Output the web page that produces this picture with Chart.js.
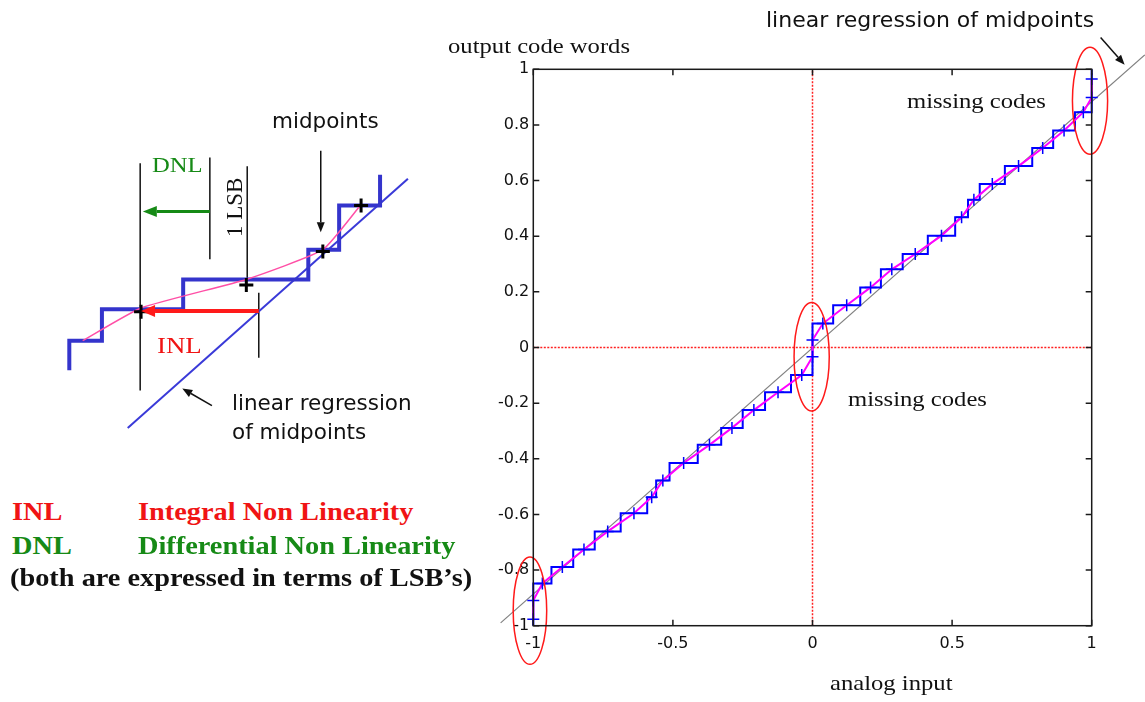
<!DOCTYPE html>
<html>
<head>
<meta charset="utf-8">
<script src="https://cdn.jsdelivr.net/npm/chart.js@4.4.1/dist/chart.umd.min.js"></script>
<style>
  html, body { margin: 0; padding: 0; background: #fff; }
  #page { position: relative; width: 1145px; height: 702px; overflow: hidden; }
  canvas { position: absolute; }
  #left { left: 0; top: 0; }
  #right { left: 440px; top: 0; }
  .t { position: absolute; white-space: nowrap; line-height: 1; transform-origin: 0 0; color: #111; z-index: 2; }
  .serif { font-family: "Liberation Serif", "Times New Roman", serif; transform: scaleX(1.12); }
  .sans { font-family: "DejaVu Sans", sans-serif; }
  .bold { font-weight: bold; font-size: 25.3px; }
  .red { color: #f01414; }
  .green { color: #168a16; }
</style>
</head>
<body>
<div id="page">
  <canvas id="left" width="460" height="480"></canvas>
  <canvas id="right" width="705" height="702"></canvas>

  <div class="t sans" style="left:766px; top:8.5px; font-size:22px;">linear regression of midpoints</div>
  <div class="t serif" style="left:448px; top:34.5px; font-size:22px;">output code words</div>
  <div class="t serif" style="left:907px; top:89.5px; font-size:22px;">missing codes</div>
  <div class="t serif" style="left:848px; top:388px; font-size:22px;">missing codes</div>
  <div class="t serif" style="left:830px; top:671.5px; font-size:22px;">analog input</div>

  <div class="t sans" style="left:272px; top:110px; font-size:21.5px;">midpoints</div>
  <div class="t sans" style="left:232px; top:392px; font-size:21.5px;">linear regression</div>
  <div class="t sans" style="left:232px; top:421px; font-size:21.5px;">of midpoints</div>
  <div class="t serif green" style="left:152px; top:153.5px; font-size:22px;">DNL</div>
  <div class="t serif red" style="left:157px; top:333px; font-size:24px;">INL</div>
  <div class="t" style="left:222.7px; top:237px; font-size:23px; font-family:'Liberation Serif',serif; transform:rotate(-90deg);">1 LSB</div>

  <div class="t serif bold red" style="left:12px; top:499px;">INL</div>
  <div class="t serif bold red" style="left:138px; top:499px;">Integral Non Linearity</div>
  <div class="t serif bold green" style="left:12px; top:533px;">DNL</div>
  <div class="t serif bold green" style="left:138px; top:533px;">Differential Non Linearity</div>
  <div class="t serif bold" style="left:10px; top:565px;">(both are expressed in terms of LSB’s)</div>
</div>

<script>
// ---- right plot: measured transfer curve, read off the picture ----
// each tread: output level and the analog input where it ends (starts at -1)
const codeLevels = [-0.848, -0.789, -0.726, -0.661, -0.596, -0.538, -0.478, -0.415, -0.350, -0.289, -0.225, -0.161, -0.099,
                    0.086, 0.152, 0.216, 0.281, 0.336, 0.402, 0.468, 0.531, 0.588, 0.652, 0.717, 0.780, 0.846];
const treadEnds = [-0.935, -0.857, -0.780, -0.687, -0.592, -0.560, -0.512, -0.411, -0.327, -0.250, -0.170, -0.077, 0,
                   0.074, 0.171, 0.245, 0.323, 0.413, 0.511, 0.557, 0.599, 0.689, 0.787, 0.862, 0.940, 1.0];
const stairBottom = -1.0;
const stairTop = 1.0;

// midpoints on the missing codes (at -1, 0 and 1)
const missingX = [-1, -1, 0, 0, 1, 1];
const missingY = [-0.977, -0.909, -0.033, 0.027, 0.899, 0.965];

// linear regression of midpoints (gray), ends
const regLineX = [-1.117, 1.19];
const regLineY = [-0.99, 1.052];

// red ellipses around the missing codes
const ellipseX = [-1.012, -0.003, 0.994];
const ellipseY = [-0.946, -0.033, 0.887];
const ellipseRx = [0.060, 0.063, 0.063];
const ellipseRy = [0.193, 0.195, 0.192];

const xTicks = [-1, -0.5, 0, 0.5, 1];
const yTicks = [-1, -0.8, -0.6, -0.4, -0.2, 0, 0.2, 0.4, 0.6, 0.8, 1];

// ---- left sketch (units of about one LSB) ----
const stairX = [0, 0, 1.10, 1.10, 3.84, 3.84, 8.06, 8.06, 9.10, 9.10, 10.48, 10.48];
const stairY = [0, 1, 1, 2.06, 2.06, 3.06, 3.06, 4.06, 4.06, 5.55, 5.55, 6.58];
const sketchRegX = [1.97, 11.42];
const sketchRegY = [-1.94, 6.45];
const curveX = [0.45, 2.42, 5.97, 8.55, 9.84];
const curveY = [1.0, 2.1, 3.06, 4.06, 5.58];
const midX = [2.42, 5.97, 8.55, 9.84];
const midY = [1.97, 2.87, 4.0, 5.55];
const markX = [2.39, 4.74, 6.0, 6.39];
const markTop = [6.97, 7.16, 6.87, 2.61];
const markBottom = [-0.68, 3.74, 3.10, 0.42];

Chart.defaults.font.family = "DejaVu Sans";

function pts(xs, ys) {
  return xs.map((x, i) => ({ x: x, y: ys[i] }));
}

function drawArrow(ctx, x0, y0, x1, y1, color, width, headLen, headWid) {
  const ang = Math.atan2(y1 - y0, x1 - x0);
  const bx = x1 - Math.cos(ang) * headLen;
  const by = y1 - Math.sin(ang) * headLen;
  ctx.save();
  ctx.strokeStyle = color;
  ctx.fillStyle = color;
  ctx.lineWidth = width;
  ctx.beginPath();
  ctx.moveTo(x0, y0);
  ctx.lineTo(bx, by);
  ctx.stroke();
  ctx.beginPath();
  ctx.moveTo(x1, y1);
  ctx.lineTo(bx + Math.sin(ang) * headWid / 2, by - Math.cos(ang) * headWid / 2);
  ctx.lineTo(bx - Math.sin(ang) * headWid / 2, by + Math.cos(ang) * headWid / 2);
  ctx.closePath();
  ctx.fill();
  ctx.restore();
}

// stair corners and tread midpoints from the tread table
const stairPts = [{ x: -1, y: stairBottom }];
const midPts = [];
let start = -1;
codeLevels.forEach((lvl, i) => {
  stairPts.push({ x: start, y: lvl });
  stairPts.push({ x: treadEnds[i], y: lvl });
  midPts.push({ x: (start + treadEnds[i]) / 2, y: lvl });
  start = treadEnds[i];
});
stairPts.push({ x: 1, y: stairTop });

const missingPts = pts(missingX, missingY);
// midpoint curve in input order, missing codes included
const curvePts = [missingPts[0], missingPts[1]]
  .concat(midPts.slice(0, 13), [missingPts[2], missingPts[3]], midPts.slice(13), [missingPts[4], missingPts[5]]);

// MATLAB style box with inward ticks, ellipses and the arrow
const rightDecor = {
  id: "rightDecor",
  afterDatasetsDraw(chart) {
    const { ctx, chartArea: a, scales: { x, y } } = chart;
    ctx.save();
    ctx.strokeStyle = "#ff1a1a";
    ctx.lineWidth = 1.5;
    ellipseX.forEach((cx, i) => {
      const px = x.getPixelForValue(cx);
      const py = y.getPixelForValue(ellipseY[i]);
      const rx = Math.abs(x.getPixelForValue(cx + ellipseRx[i]) - px);
      const ry = Math.abs(y.getPixelForValue(ellipseY[i] + ellipseRy[i]) - py);
      ctx.beginPath();
      ctx.ellipse(px, py, rx, ry, 0, 0, Math.PI * 2);
      ctx.stroke();
    });

    ctx.strokeStyle = "#1a1a1a";
    ctx.lineWidth = 1.5;
    ctx.strokeRect(a.left, a.top, a.right - a.left, a.bottom - a.top);
    ctx.beginPath();
    xTicks.forEach(v => {
      const px = x.getPixelForValue(v);
      ctx.moveTo(px, a.bottom); ctx.lineTo(px, a.bottom - 6);
      ctx.moveTo(px, a.top); ctx.lineTo(px, a.top + 6);
    });
    yTicks.forEach(v => {
      const py = y.getPixelForValue(v);
      ctx.moveTo(a.left, py); ctx.lineTo(a.left + 6, py);
      ctx.moveTo(a.right, py); ctx.lineTo(a.right - 6, py);
    });
    ctx.stroke();
    ctx.restore();

    drawArrow(ctx, x.getPixelForValue(1.032), y.getPixelForValue(1.114),
      x.getPixelForValue(1.118), y.getPixelForValue(1.016), "#111", 1.5, 10, 8);
  }
};

const tickLabel = (v) => String(Number(v.toFixed(1)));

new Chart(document.getElementById("right"), {
  type: "scatter",
  data: {
    datasets: [
      {
        data: midPts.concat(missingPts),
        pointStyle: "cross",
        pointRadius: 6,
        pointBorderWidth: 1.5,
        borderColor: "#0000ff",
        showLine: false,
        clip: false
      },
      {
        data: curvePts,
        borderColor: "#ff00ff",
        borderWidth: 2,
        pointRadius: 0,
        showLine: true,
        clip: false
      },
      {
        data: stairPts,
        borderColor: "#0000ff",
        borderWidth: 2,
        pointRadius: 0,
        showLine: true,
        clip: false
      },
      {
        data: pts(regLineX, regLineY),
        borderColor: "#808080",
        borderWidth: 1.2,
        pointRadius: 0,
        showLine: true,
        clip: false
      },
      {
        data: [{ x: 0, y: -1 }, { x: 0, y: 1 }],
        borderColor: "#ff2020",
        borderWidth: 1.5,
        borderDash: [2, 1.5],
        pointRadius: 0,
        showLine: true
      },
      {
        data: [{ x: -1, y: 0 }, { x: 1, y: 0 }],
        borderColor: "#ff2020",
        borderWidth: 1.5,
        borderDash: [2, 1.5],
        pointRadius: 0,
        showLine: true
      }
    ]
  },
  options: {
    responsive: false,
    animation: false,
    devicePixelRatio: 1,
    layout: { padding: { left: 43.3, right: 53.3, top: 69.3, bottom: 36.3 } },
    plugins: { legend: { display: false }, tooltip: { enabled: false } },
    scales: {
      x: {
        type: "linear",
        min: -1,
        max: 1,
        grid: { display: false, drawTicks: false },
        border: { display: false },
        ticks: { stepSize: 0.5, padding: 9, color: "#111", font: { size: 16 }, callback: tickLabel },
        afterFit: (s) => { s.height = 40; s.paddingLeft = 0; s.paddingRight = 0; }
      },
      y: {
        type: "linear",
        min: -1,
        max: 1,
        grid: { display: false, drawTicks: false },
        border: { display: false },
        ticks: { stepSize: 0.2, padding: 4, color: "#111", font: { size: 16 }, callback: tickLabel },
        afterFit: (s) => { s.width = 50; s.paddingTop = 0; s.paddingBottom = 0; }
      }
    }
  },
  plugins: [rightDecor]
});

// ---- left sketch ----
const sketchArrows = [
  { from: [4.74, 5.35], to: [2.48, 5.35], color: "#168a16", width: 3, head: 14, wid: 11 },
  { from: [6.39, 2.0], to: [2.42, 2.0], color: "#ff1a1a", width: 4, head: 14, wid: 12 },
  { from: [8.48, 7.39], to: [8.48, 4.65], color: "#111", width: 1.5, head: 10, wid: 8 },
  { from: [4.81, -1.19], to: [3.81, -0.61], color: "#111", width: 1.5, head: 10, wid: 8 }
];

const leftDecor = {
  id: "leftDecor",
  afterDatasetsDraw(chart) {
    const { ctx, scales: { x, y } } = chart;
    sketchArrows.forEach(a => {
      drawArrow(ctx, x.getPixelForValue(a.from[0]), y.getPixelForValue(a.from[1]),
        x.getPixelForValue(a.to[0]), y.getPixelForValue(a.to[1]), a.color, a.width, a.head, a.wid);
    });
  }
};

const markerSets = markX.map((mx, i) => ({
  data: [{ x: mx, y: markBottom[i] }, { x: mx, y: markTop[i] }],
  borderColor: "#111",
  borderWidth: 1.5,
  pointRadius: 0,
  showLine: true
}));

new Chart(document.getElementById("left"), {
  type: "scatter",
  data: {
    datasets: [
      {
        data: pts(midX, midY),
        pointStyle: "cross",
        pointRadius: 7,
        pointBorderWidth: 3,
        borderColor: "#000",
        showLine: false
      },
      {
        data: pts(curveX, curveY),
        borderColor: "#ff4fa6",
        borderWidth: 1.5,
        tension: 0.15,
        pointRadius: 0,
        showLine: true
      },
      {
        data: pts(stairX, stairY),
        borderColor: "#3434cc",
        borderWidth: 4,
        pointRadius: 0,
        showLine: true
      },
      {
        data: pts(sketchRegX, sketchRegY),
        borderColor: "#3a3ad8",
        borderWidth: 2,
        pointRadius: 0,
        showLine: true
      }
    ].concat(markerSets)
  },
  options: {
    responsive: false,
    animation: false,
    devicePixelRatio: 1,
    layout: { padding: 0 },
    plugins: { legend: { display: false }, tooltip: { enabled: false } },
    scales: {
      x: { type: "linear", display: false, min: -2, max: -2 + 460 / 31 },
      y: { type: "linear", display: false, min: -104 / 31, max: 376 / 31 }
    }
  },
  plugins: [leftDecor]
});
</script>
</body>
</html>
